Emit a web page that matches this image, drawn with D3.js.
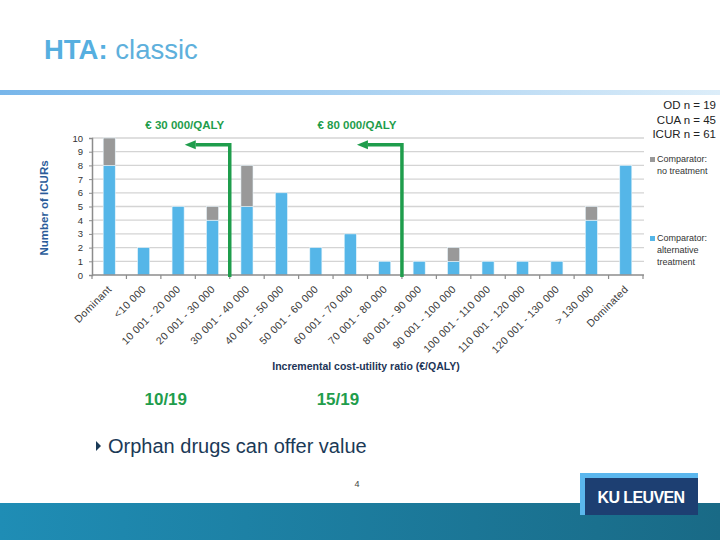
<!DOCTYPE html>
<html>
<head>
<meta charset="utf-8">
<script src="https://cdn.jsdelivr.net/npm/d3@7"></script>
<style>
  body { margin: 0; background: #fff; }
  text { font-family: "Liberation Sans", Arial, sans-serif; }
</style>
</head>
<body>
<div id="slide"></div>
<script>
var categories = ["Dominant", "<10 000", "10 001 - 20 000", "20 001 - 30 000",
  "30 001 - 40 000", "40 001 - 50 000", "50 001 - 60 000", "60 001 - 70 000",
  "70 001 - 80 000", "80 001 - 90 000", "90 001 - 100 000", "100 001 - 110 000",
  "110 001 - 120 000", "120 001 - 130 000", "> 130 000", "Dominated"];

// Comparator: alternative treatment (blue)
var alt_treatment = [8, 2, 5, 4, 5, 6, 2, 3, 1, 1, 1, 1, 1, 1, 4, 8];
// Comparator: no treatment (grey)
var no_treatment = [2, 0, 0, 1, 3, 0, 0, 0, 0, 0, 1, 0, 0, 0, 1, 0];

var y_ticks = [0, 1, 2, 3, 4, 5, 6, 7, 8, 9, 10];

// thresholds: category where the arrow starts + label
var thresholds = [
  {"label": "€ 30 000/QALY", "after": "20 001 - 30 000", "share": "10/19"},
  {"label": "€ 80 000/QALY", "after": "70 001 - 80 000", "share": "15/19"}
];

var counts = ["OD n = 19", "CUA n = 45", "ICUR n = 61"];

var color_map = {
  "alt": "#55b6e8",
  "none": "#999999"
};
var green = "#1f9d4c";

var svg = d3.select("#slide").append("svg")
    .attr("width", 720)
    .attr("height", 540);

// --- slide decoration ---
var defs = svg.append("defs");
var topGrad = defs.append("linearGradient").attr("id", "topband");
topGrad.append("stop").attr("offset", "0%").attr("stop-color", "#78b6ea");
topGrad.append("stop").attr("offset", "100%").attr("stop-color", "#dcedf9");
var botGrad = defs.append("linearGradient").attr("id", "botband");
botGrad.append("stop").attr("offset", "0%").attr("stop-color", "#1f8db5");
botGrad.append("stop").attr("offset", "100%").attr("stop-color", "#196a86");

svg.append("rect")
    .attr("x", 0).attr("y", 90)
    .attr("width", 720).attr("height", 5)
    .attr("fill", "url(#topband)");

svg.append("rect")
    .attr("x", 0).attr("y", 503)
    .attr("width", 720).attr("height", 37)
    .attr("fill", "url(#botband)");

var title = svg.append("text")
    .attr("x", 44)
    .attr("y", 59)
    .attr("font-size", 27.5)
    .attr("fill", "#56afe0");
title.append("tspan").attr("font-weight", "bold").text("HTA:");
title.append("tspan").attr("fill", "#5eb0dc").text(" classic");

// KU Leuven logo
svg.append("rect")
    .attr("x", 580).attr("y", 473)
    .attr("width", 118).attr("height", 42)
    .attr("fill", "#5bb7ee");
svg.append("rect")
    .attr("x", 585).attr("y", 478)
    .attr("width", 113).attr("height", 37)
    .attr("fill", "#1d3f72");
svg.append("text")
    .attr("x", 641)
    .attr("y", 503)
    .attr("text-anchor", "middle")
    .attr("font-size", 16)
    .attr("font-weight", "bold")
    .attr("letter-spacing", -0.6)
    .attr("fill", "#fff")
    .text("KU LEUVEN");

// --- chart ---
var margin = {top: 138, left: 92},
width = 551,
height = 137;

var x = d3.scaleBand()
          .domain(categories)
          .range([0, width])
          .paddingInner(0.65)
          .paddingOuter(0.325);
var y = d3.scaleLinear()
          .domain([0, 10])
          .range([height, 0]);

var step = x.step();
function leftEdge(name) { return x(name) - step * 0.325; }

var g = svg.append("g")
    .attr("transform", "translate(" + margin.left + "," + margin.top + ")");

// gridlines
g.selectAll(".grid")
    .data(y_ticks.slice(1))
  .enter().append("line")
    .attr("class", "grid")
    .attr("x1", 0)
    .attr("x2", width + 1)
    .attr("y1", function(d) { return y(d); })
    .attr("y2", function(d) { return y(d); })
    .attr("stroke", "#d4d4d4")
    .attr("stroke-width", 1.3);

var table = categories.map(function(c, i) {
  return {"name": c, "alt": alt_treatment[i], "none": no_treatment[i]};
});
var stack = d3.stack().keys(["alt", "none"])(table);

g.selectAll(".layer")
    .data(stack)
  .enter().append("g")
    .attr("class", "layer")
    .attr("fill", function(d) { return color_map[d.key]; })
  .selectAll("rect")
    .data(function(d) { return d.filter(function(p) { return p[1] > p[0]; }); })
  .enter().append("rect")
    .attr("x", function(d) { return x(d.data.name); })
    .attr("width", x.bandwidth())
    .attr("y", function(d) { return y(d[1]); })
    .attr("height", function(d) { return y(d[0]) - y(d[1]); })
    .attr("stroke", "#e6f4fb")
    .attr("stroke-width", 0.6);

// y axis
var yAxis = g.append("g")
    .call(d3.axisLeft(y).tickValues(y_ticks).tickSize(3).tickPadding(6).tickFormat(d3.format("d")));
yAxis.select(".domain").attr("stroke", "#8c8c8c").attr("stroke-width", 1.5);
yAxis.selectAll(".tick line").attr("stroke", "#8c8c8c");
yAxis.selectAll(".tick text")
    .attr("font-family", "Liberation Sans, Arial, sans-serif")
    .attr("font-size", 9.5)
    .attr("fill", "#333");

// x axis: ticks at band boundaries
var xAxis = g.append("g")
    .attr("transform", "translate(0," + height + ")");
xAxis.append("line")
    .attr("x1", 0).attr("x2", width + 1)
    .attr("stroke", "#8c8c8c")
    .attr("stroke-width", 1.5);
xAxis.selectAll(".xtick")
    .data(categories.concat(["end"]))
  .enter().append("line")
    .attr("class", "xtick")
    .attr("x1", function(d, i) { return i * step; })
    .attr("x2", function(d, i) { return i * step; })
    .attr("y1", 0)
    .attr("y2", 4)
    .attr("stroke", "#8c8c8c")
    .attr("stroke-width", 1.2);

xAxis.selectAll(".xlabel")
    .data(categories)
  .enter().append("text")
    .attr("class", "xlabel")
    .attr("transform", function(d) {
      return "translate(" + (x(d) + x.bandwidth() / 2 + 3) + ",15) rotate(-45)";
    })
    .attr("text-anchor", "end")
    .attr("font-size", 10.5)
    .attr("letter-spacing", 0.3)
    .attr("fill", "#3a3a3a")
    .text(function(d) { return d; });

// axis titles
svg.append("text")
    .attr("transform", "translate(48,208) rotate(-90)")
    .attr("text-anchor", "middle")
    .attr("font-size", 11.5)
    .attr("font-weight", "bold")
    .attr("fill", "#2b5c9a")
    .text("Number of ICURs");

svg.append("text")
    .attr("x", 366)
    .attr("y", 370)
    .attr("text-anchor", "middle")
    .attr("font-size", 10.5)
    .attr("font-weight", "bold")
    .attr("fill", "#1d3557")
    .text("Incremental cost-utility ratio (€/QALY)");

// threshold arrows
thresholds.forEach(function(t) {
  var bx = leftEdge(t.after) + step;
  var ay = y(9.5);
  g.append("path")
      .attr("d", "M" + bx + "," + (height + 2) + "V" + ay + "H" + (bx - 34))
      .attr("fill", "none")
      .attr("stroke", green)
      .attr("stroke-width", 3.5);
  g.append("path")
      .attr("d", "M" + (bx - 45) + "," + ay + "L" + (bx - 34) + "," + (ay - 4.5) + "L" + (bx - 34) + "," + (ay + 4.5) + "Z")
      .attr("fill", green);
  g.append("text")
      .attr("x", bx - 45)
      .attr("y", -9)
      .attr("text-anchor", "middle")
      .attr("font-size", 11.5)
      .attr("font-weight", "bold")
      .attr("fill", green)
      .text(t.label);
  svg.append("text")
      .attr("x", margin.left + bx - 64)
      .attr("y", 405)
      .attr("text-anchor", "middle")
      .attr("font-size", 17)
      .attr("font-weight", "bold")
      .attr("fill", green)
      .text(t.share);
});

// counts top right
svg.selectAll(".count")
    .data(counts)
  .enter().append("text")
    .attr("class", "count")
    .attr("x", 716)
    .attr("y", function(d, i) { return 109 + i * 14.5; })
    .attr("text-anchor", "end")
    .attr("font-size", 11.5)
    .attr("fill", "#222")
    .text(function(d) { return d; });

// legend
var legend_items = [
  {"key": "none", "lines": ["Comparator:", "no treatment"], "y": 161},
  {"key": "alt", "lines": ["Comparator:", "alternative", "treatment"], "y": 240}
];
legend_items.forEach(function(l) {
  svg.append("rect")
      .attr("x", 650).attr("y", l.y - 4)
      .attr("width", 5).attr("height", 5)
      .attr("fill", color_map[l.key]);
  l.lines.forEach(function(line, i) {
    svg.append("text")
        .attr("x", 657)
        .attr("y", l.y + 1 + i * 12)
        .attr("font-size", 9)
        .attr("fill", "#333")
        .text(line);
  });
});

// bullet
svg.append("path")
    .attr("d", "M96,441 L101,446 L96,451 Z")
    .attr("fill", "#1b3a57");
svg.append("text")
    .attr("x", 108)
    .attr("y", 453)
    .attr("font-size", 20)
    .attr("fill", "#1b3a57")
    .text("Orphan drugs can offer value");

svg.append("text")
    .attr("x", 357)
    .attr("y", 487)
    .attr("text-anchor", "middle")
    .attr("font-size", 9)
    .attr("fill", "#444")
    .text("4");
</script>
</body>
</html>
